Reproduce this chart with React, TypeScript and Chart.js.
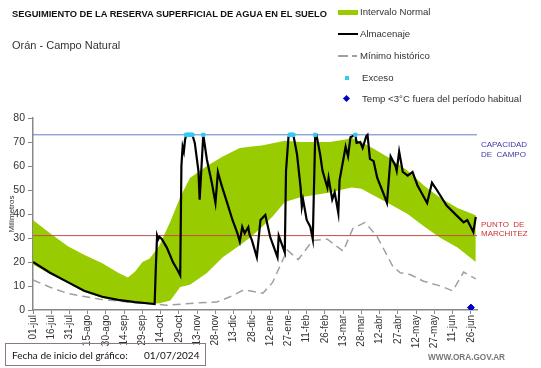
import React, { useEffect, useRef } from 'react';
import { Chart, registerables } from 'chart.js';

Chart.register(...registerables);

const FONT = '"Liberation Sans", Arial, sans-serif';

// X axis: day offset from 01/07/2024
const X_MAX = 365;
const tickDays = [0, 15, 30, 45, 60, 75, 90, 105, 120, 135, 150, 165, 180, 195, 210, 225, 240, 255, 270, 285, 300, 315, 330, 345, 360];
const tickLabels = ['01-jul', '16-jul', '31-jul', '15-ago', '30-ago', '14-sep', '29-sep', '14-oct', '29-oct', '13-nov', '28-nov', '13-dic', '28-dic', '12-ene', '27-ene', '11-feb', '26-feb', '13-mar', '28-mar', '12-abr', '27-abr', '12-may', '27-may', '11-jun', '26-jun'];

// Almacenaje (black line)
const almDays = [0, 14, 29, 42, 57, 70, 84, 96, 100, 101, 102, 103, 104, 106, 110, 115, 119, 121, 122, 123, 124, 125, 126, 131, 133, 136, 137, 140, 143, 147, 150, 152, 155, 160, 164, 168, 170, 172, 174, 177, 178, 180, 184, 187, 191, 195, 201, 202, 207, 208, 210, 211, 214, 217, 220, 221, 222, 225, 228, 230, 232, 233, 236, 238, 242, 243, 246, 248, 251, 252, 257, 259, 261, 265, 266, 269, 271, 274, 275, 277, 280, 283, 288, 291, 294, 298, 299, 301, 304, 308, 312, 316, 324, 328, 332, 340, 349, 354, 357, 362, 364];
const almVals = [20, 15.5, 11.5, 8, 5.5, 4.2, 3.3, 2.7, 2.5, 18, 31, 29.5, 30.5, 29.5, 26, 20, 16.5, 14.5, 60, 68, 66, 71, 73, 73, 69.6, 58, 46, 73, 62.5, 53, 44.6, 57.5, 52, 44, 37.5, 32, 28.5, 34.6, 32, 34.5, 31.5, 29, 22, 37.5, 39.6, 30.4, 22, 31, 24, 58, 72, 73, 73, 65, 51, 43, 46, 37.5, 34.6, 29.5, 73, 73, 65, 58, 51, 55, 46, 49, 40.4, 54, 68, 64, 72, 73, 69.6, 70, 67.5, 72.5, 73, 63, 62, 55, 48.7, 44.6, 64, 60, 58, 66, 57.5, 56, 57.5, 52, 44.6, 53, 50, 43.5, 39, 36.5, 37.5, 32.5, 38.8];

// Mínimo histórico (dashed grey)
const minDays = [0, 14, 28, 41, 55, 69, 82, 98, 110, 123, 137, 151, 162, 173, 178, 189, 197, 209, 218, 230, 242, 255, 263, 273, 283, 296, 302, 310, 321, 335, 345, 354, 364];
const minVals = [12.5, 9.5, 7, 5.7, 4.5, 3.8, 3, 2.5, 2, 2.5, 3, 3.3, 5.5, 8.3, 8, 7, 11.5, 25, 21, 29, 29.5, 24.5, 34, 36.5, 30.5, 18, 15.5, 14.8, 12, 10, 8, 15.8, 13];

// Intervalo normal (green band)
const bandDays = [0, 14, 29, 42, 57, 70, 78, 84, 90, 96, 104, 113, 121, 129, 143, 156, 170, 178, 188, 197, 207, 220, 244, 257, 262, 270, 279, 294, 308, 321, 335, 349, 364];
const bandUpper = [37.5, 32, 26.5, 23, 19.5, 15.5, 13.5, 16, 20, 21.5, 27, 37, 47, 55, 60, 64, 67.5, 68, 68.5, 69.5, 70.5, 70, 70, 71, 71.7, 70, 67.5, 63, 58, 52, 46.7, 42.5, 39.5];
const bandLower = [19, 15, 11, 7.5, 5, 3.8, 3.3, 3, 2.8, 2.5, 2.8, 4, 9.6, 10.5, 15.4, 22, 27, 30, 34.5, 39, 45, 47, 49, 50.5, 51, 50.5, 48, 44, 40, 35, 30, 26, 20];

// Exceso (cyan) and low temperature (blue diamond)
const excesoDays = [126, 127, 128, 129, 130, 131, 140, 211, 212, 213, 214, 232, 265];
const excesoValue = 73;
const tempDays = [360];
const tempVals = [1];

const CAPACIDAD = 73;
const MARCHITEZ = 31;

const pts = (xs: number[], ys: number[]) => xs.map((x, i) => ({ x, y: ys[i] }));

function Txt(props: { x: number; y: number; size: number; color?: string; bold?: boolean; family?: string; children: React.ReactNode }) {
  return (
    <span
      style={{
        position: 'absolute',
        left: props.x,
        top: props.y,
        transform: 'translateY(-50%)',
        fontSize: props.size,
        lineHeight: 1,
        fontFamily: props.family || FONT,
        fontWeight: props.bold ? 'bold' : 'normal',
        color: props.color || '#333',
        whiteSpace: 'pre',
      }}
    >
      {props.children}
    </span>
  );
}

export default function App() {
  const ref = useRef<HTMLCanvasElement | null>(null);

  useEffect(() => {
    if (!ref.current) return;
    const chart = new Chart(ref.current, {
      type: 'line',
      data: {
        datasets: [
          {
            label: 'Temp',
            data: pts(tempDays, tempVals),
            showLine: false,
            pointStyle: 'rectRot',
            pointRadius: 3.5,
            backgroundColor: '#0000cc',
            borderColor: '#0000cc',
          },
          {
            label: 'Exceso',
            data: excesoDays.map((d) => ({ x: d, y: excesoValue })),
            showLine: false,
            pointStyle: 'rect',
            pointRadius: 2.3,
            backgroundColor: '#33ccee',
            borderColor: '#33ccee',
          },
          {
            label: 'Almacenaje',
            data: pts(almDays, almVals),
            borderColor: '#000000',
            borderWidth: 2.2,
            pointRadius: 0,
            tension: 0,
          },
          {
            label: 'Mínimo histórico',
            data: pts(minDays, minVals),
            borderColor: '#a0a0a0',
            borderWidth: 1.5,
            borderDash: [8, 5],
            pointRadius: 0,
          },
          {
            label: 'Punto de marchitez',
            data: [{ x: 0, y: MARCHITEZ }, { x: X_MAX, y: MARCHITEZ }],
            borderColor: '#c0504d',
            borderWidth: 1,
            pointRadius: 0,
          },
          {
            label: 'Capacidad de campo',
            data: [{ x: 0, y: CAPACIDAD }, { x: X_MAX, y: CAPACIDAD }],
            borderColor: '#5b7fc7',
            borderWidth: 1,
            pointRadius: 0,
          },
          {
            label: 'Intervalo Normal',
            data: pts(bandDays, bandUpper),
            borderWidth: 0,
            borderColor: 'rgba(0,0,0,0)',
            backgroundColor: '#99cc00',
            pointRadius: 0,
            fill: '+1',
          },
          {
            label: 'Intervalo Normal inf',
            data: pts(bandDays, bandLower),
            borderWidth: 0,
            borderColor: 'rgba(0,0,0,0)',
            pointRadius: 0,
            fill: false,
          },
        ],
      },
      options: {
        animation: false,
        responsive: false,
        devicePixelRatio: 1,
        layout: { padding: { top: 118, right: 64, bottom: 0, left: 0 } },
        plugins: { legend: { display: false }, tooltip: { enabled: false } },
        scales: {
          x: {
            type: 'linear',
            min: 0,
            max: X_MAX,
            afterBuildTicks: (s: any) => {
              s.ticks = tickDays.map((v) => ({ value: v }));
            },
            afterFit: (s: any) => {
              s.height = 58;
            },
            ticks: {
              autoSkip: false,
              maxRotation: 90,
              minRotation: 90,
              padding: 1,
              color: '#333',
              font: { size: 10, family: FONT },
              callback: (_v: any, i: number) => tickLabels[i],
            },
            grid: { drawOnChartArea: false, tickLength: 4, color: '#888' },
            border: { color: '#888', width: 1.5 },
          },
          y: {
            min: 0,
            max: 80,
            afterFit: (s: any) => {
              s.width = 33;
            },
            ticks: { stepSize: 10, padding: 3, color: '#333', font: { size: 10.5, family: FONT } },
            grid: { drawOnChartArea: false, tickLength: 5, color: '#888' },
            border: { color: '#888', width: 1.5 },
            title: { display: true, text: 'Milímetros', color: '#333', font: { size: 8, family: FONT }, padding: { top: 7, bottom: 0 } },
          },
        },
      },
    } as any);
    return () => chart.destroy();
  }, []);

  const legendSize = 9.6;

  return (
    <div style={{ position: 'absolute', left: 0, top: 0, width: 541, height: 368, background: '#fff', overflow: 'hidden' }}>
      <canvas ref={ref} width={541} height={368} style={{ position: 'absolute', left: 0, top: 0, width: 541, height: 368 }} />

      <Txt x={12} y={15} size={9.3} bold color="#111">SEGUIMIENTO DE LA RESERVA SUPERFICIAL DE AGUA EN EL SUELO</Txt>
      <Txt x={12} y={45} size={11}>Orán - Campo Natural</Txt>

      {/* legend */}
      <div style={{ position: 'absolute', left: 338, top: 10, width: 20, height: 5, background: '#99cc00' }} />
      <Txt x={360} y={12} size={legendSize}>Intervalo Normal</Txt>
      <div style={{ position: 'absolute', left: 338, top: 33, width: 20, height: 2, background: '#000' }} />
      <Txt x={360} y={34} size={legendSize}>Almacenaje</Txt>
      <div style={{ position: 'absolute', left: 338, top: 55, width: 10, height: 1.5, background: '#a0a0a0' }} />
      <div style={{ position: 'absolute', left: 352, top: 55, width: 5, height: 1.5, background: '#a0a0a0' }} />
      <Txt x={360} y={56} size={legendSize}>Mínimo histórico</Txt>
      <div style={{ position: 'absolute', left: 345, top: 76, width: 4, height: 4, background: '#33ccee' }} />
      <Txt x={362} y={78} size={legendSize}>Exceso</Txt>
      <div style={{ position: 'absolute', left: 344, top: 96, width: 5, height: 5, background: '#0000cc', transform: 'rotate(45deg)' }} />
      <Txt x={362} y={99} size={legendSize}>Temp &lt;3°C fuera del período habitual</Txt>

      {/* reference line labels */}
      <Txt x={481} y={145} size={8} color="#3a3aa0">CAPACIDAD</Txt>
      <Txt x={481} y={155} size={8} color="#3a3aa0">DE  CAMPO</Txt>
      <Txt x={481} y={225} size={8} color="#cc3333">PUNTO  DE</Txt>
      <Txt x={481} y={234} size={8} color="#cc3333">MARCHITEZ</Txt>

      {/* footer */}
      <div style={{ position: 'absolute', left: 5, top: 343, width: 201, height: 23, border: '1px solid #8c7a7a', boxSizing: 'border-box' }} />
      <Txt x={12} y={355} size={10} family='Lato, "Liberation Sans", sans-serif' color="#111">Fecha de inicio del gráfico:</Txt>
      <Txt x={144} y={355} size={10} family='Lato, "Liberation Sans", sans-serif' color="#111">01/07/2024</Txt>
      <Txt x={428} y={358} size={8.2} bold color="#777">WWW.ORA.GOV.AR</Txt>
    </div>
  );
}
